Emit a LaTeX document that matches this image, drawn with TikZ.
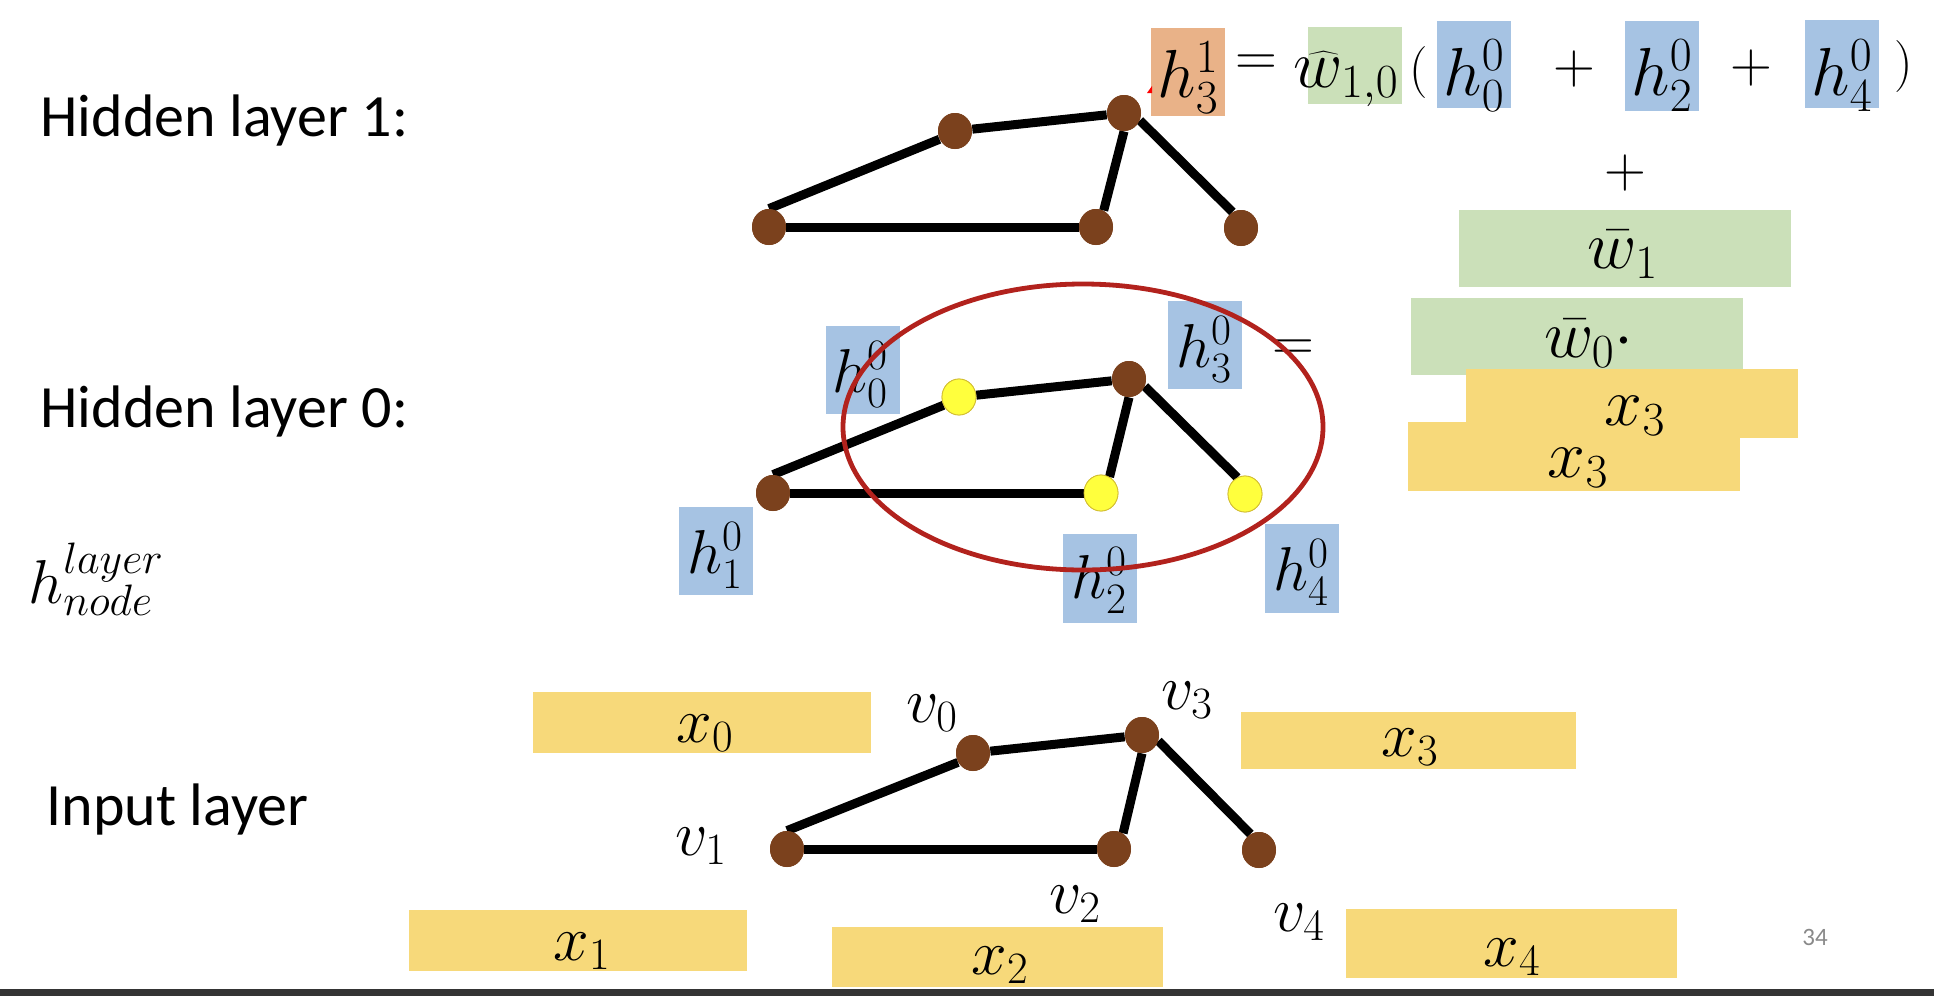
\RequirePackage{fix-cm}
\documentclass[tikz,border=0pt]{standalone}
\usepackage[no-math]{fontspec}
\setmainfont{Carlito}
\usetikzlibrary{shapes.geometric}
\definecolor{nodebrown}{RGB}{123,65,29}
\definecolor{nodeyellow}{RGB}{255,255,61}
\definecolor{boxblue}{RGB}{166,195,227}
\definecolor{boxgreen}{RGB}{203,224,185}
\definecolor{boxgold}{RGB}{247,217,122}
\definecolor{boxorange}{RGB}{233,178,136}
\definecolor{ringred}{RGB}{178,34,29}
\definecolor{pagegray}{RGB}{137,137,137}
\definecolor{bardark}{RGB}{52,52,52}
\newcommand{\scr}[1]{\hbox{\fontsize{22}{26}\selectfont$#1$}}
\tikzset{
  gnode/.style={ellipse, fill=nodebrown, minimum width=17pt, minimum height=18pt, inner sep=0pt},
  ynode/.style={gnode, fill=nodeyellow, draw=nodebrown!35!nodeyellow, line width=0.4pt},
  gedge/.style={line width=4.5pt},
  lbl/.style={font=\fontsize{30}{36}\selectfont, anchor=base west, inner sep=0pt},
  eqm/.style={font=\fontsize{34}{40}\selectfont, anchor=base, inner sep=0pt},
  hm/.style={font=\fontsize{31}{36}\selectfont, anchor=base, inner sep=0pt},
  vm/.style={font=\fontsize{32}{37}\selectfont, anchor=base, inner sep=0pt},
  sym/.style={font=\fontsize{29}{34}\selectfont, anchor=center, inner sep=0pt, line width=0pt},
  ring/.style={draw=ringred, line width=2.4pt}
}
\begin{document}
\begin{tikzpicture}[x=0.5pt, y=-0.5pt]
\useasboundingbox (0,0) rectangle (1934,996);

% ---------- left labels ----------
\node[lbl] (t1) at (40,136) {Hidden layer 1:};
\node[lbl] (t0) at (40,427) {Hidden layer 0:};
\node[lbl] (ti) at (46,825) {Input layer};
\node[lbl, font=\fontsize{31}{36}\selectfont] (thn) at (28,603) {$h_{\scr{node}}^{\scr{layer}}$};

% ---------- hidden layer 1 graph ----------
\node[gnode] (a1) at (769,227) {};
\node[gnode] (b1) at (955,131) {};
\node[gnode] (c1) at (1124,113) {};
\node[gnode] (d1) at (1096,227) {};
\node[gnode] (e1) at (1241,228) {};
\draw[gedge] (a1.north) -- (b1.208);
\draw[gedge] (b1) -- (c1);
\draw[gedge] (c1.south) -- (d1.65);
\draw[gedge] (c1.-25) -- (e1.118);
\draw[gedge] (a1) -- (d1);
\node[gnode] at (a1) {};
\node[gnode] at (b1) {};
\node[gnode] at (c1) {};
\node[gnode] at (d1) {};
\node[gnode] at (e1) {};

% ---------- top equation ----------
\fill[boxorange] (1151,28) rectangle (1225,116);
\fill[red] (1147,93) -- (1152,86) -- (1152,93) -- cycle;
\node[eqm] (h31) at (1188,97) {$h_3^1$};
\node[sym] (eq1) at (1256,65) {$=$};
\fill[boxgreen] (1308,27) rectangle (1402,104);
\node[eqm] (w10) at (1346,87) {$\widehat{w}_{1,0}$};
\node[sym, font=\fontsize{26}{30}\selectfont] (lp) at (1419,72) {$($};
\fill[boxblue] (1437,21) rectangle (1511,108);
\node[eqm] (e00) at (1474,95) {$h_0^0$};
\node[sym] (pl1) at (1574,69) {$+$};
\fill[boxblue] (1625,21) rectangle (1699,111);
\node[eqm] (e20) at (1662,95) {$h_2^0$};
\node[sym] (pl2) at (1751,68) {$+$};
\fill[boxblue] (1805,20) rectangle (1879,108);
\node[eqm] (e40) at (1842,95) {$h_4^0$};
\node[sym, font=\fontsize{26}{30}\selectfont] (rp) at (1904,66) {$)$};
\node[sym] (pl3) at (1625,173) {$+$};
\fill[boxgreen] (1459,210) rectangle (1791,287);
\node[eqm] (wb1) at (1623,268) {$\bar{w}_1$};
\fill[boxgreen] (1411,298) rectangle (1743,375);
\node[eqm] (wb0) at (1589,357) {$\bar{w}_0\cdot$};
\fill[boxgold] (1466,369) rectangle (1798,438);
\fill[boxgold] (1408,422) rectangle (1740,491);
\node[eqm] (x3a) at (1635,425) {$x_3$};
\node[eqm] (x3b) at (1578,477) {$x_3$};

% ---------- hidden layer 0 ----------
\fill[boxblue] (826,326) rectangle (900,414);
\node[hm] (l00) at (860,392) {$h_0^0$};
\fill[boxblue] (1168,301) rectangle (1242,389);
\node[hm] (l30) at (1204,367) {$h_3^0$};
\fill[boxblue] (679,507) rectangle (753,595);
\node[hm] (l10) at (715,573) {$h_1^0$};
\fill[boxblue] (1063,534) rectangle (1137,623);
\node[hm] (l20) at (1099,598) {$h_2^0$};
\fill[boxblue] (1265,524) rectangle (1339,613);
\node[hm] (l40) at (1301,590) {$h_4^0$};
\node[sym] (eq0) at (1293,350) {$=$};

\node[gnode] (a0) at (773,493) {};
\node[ynode] (b0) at (959,397) {};
\node[gnode] (c0) at (1129,379) {};
\node[ynode] (d0) at (1101,493) {};
\node[ynode] (e0) at (1245,494) {};
\draw[gedge] (a0.north) -- (b0.208);
\draw[gedge] (b0) -- (c0);
\draw[gedge] (c0.south) -- (d0.62);
\draw[gedge] (c0.-25) -- (e0.115);
\draw[gedge] (a0) -- (d0);
\node[gnode] at (a0) {};
\node[ynode] at (b0) {};
\node[gnode] at (c0) {};
\node[ynode] at (d0) {};
\node[ynode] at (e0) {};
\draw[ring] (1083,427) ellipse [x radius=240, y radius=143];

% ---------- input layer ----------
\fill[boxgold] (533,692) rectangle (871,753);
\node[vm] (x0) at (705,742) {$x_0$};
\fill[boxgold] (1241,712) rectangle (1576,769);
\node[vm] (x3) at (1410,756) {$x_3$};
\fill[boxgold] (409,910) rectangle (747,971);
\node[vm] (x1) at (582,960) {$x_1$};
\fill[boxgold] (832,927) rectangle (1163,987);
\node[vm] (x2) at (1000,974) {$x_2$};
\fill[boxgold] (1346,909) rectangle (1677,978);
\node[vm] (x4) at (1512,966) {$x_4$};

\node[vm] (lv0) at (932,722) {$v_0$};
\node[vm] (lv3) at (1187,709) {$v_3$};
\node[vm] (lv1) at (701,855) {$v_1$};
\node[vm] (lv2) at (1075,913) {$v_2$};
\node[vm] (lv4) at (1299,931) {$v_4$};

\node[gnode] (v0) at (973,753) {};
\node[gnode] (v3) at (1142,735) {};
\node[gnode] (v1) at (787,849) {};
\node[gnode] (v2) at (1114,849) {};
\node[gnode] (v4) at (1259,850) {};
\draw[gedge] (v1.north) -- (v0.212);
\draw[gedge] (v0) -- (v3);
\draw[gedge] (v3.south) -- (v2.60);
\draw[gedge] (v3.-20) -- (v4.118);
\draw[gedge] (v1) -- (v2);
\node[gnode] at (v0) {};
\node[gnode] at (v3) {};
\node[gnode] at (v1) {};
\node[gnode] at (v2) {};
\node[gnode] at (v4) {};

% ---------- page number and bottom bar ----------
\node[font=\fontsize{12.5}{15}\selectfont, text=pagegray, inner sep=0pt] (pg) at (1815,937) {34};
\fill[bardark] (0,989) rectangle (1934,996);
\end{tikzpicture}
\end{document}
